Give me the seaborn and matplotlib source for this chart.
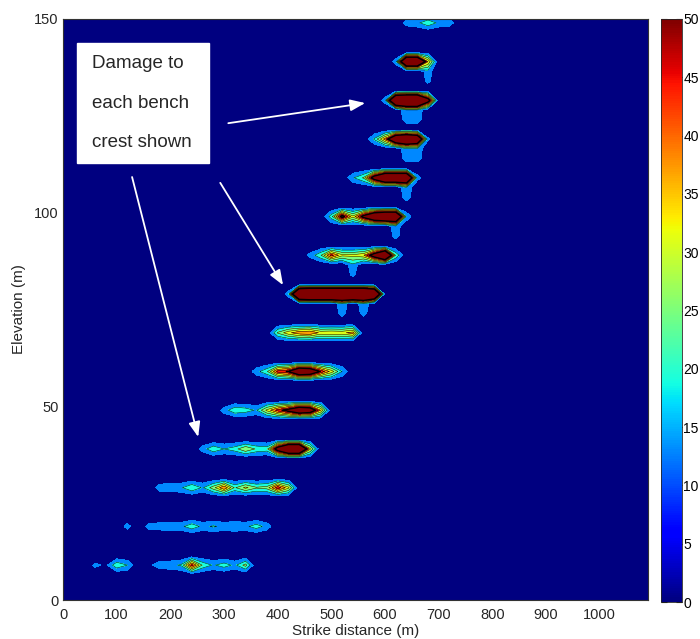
import numpy as np
import matplotlib
matplotlib.use("Agg")
import matplotlib.pyplot as plt
import seaborn as sns
from matplotlib.patches import Rectangle
from matplotlib.cm import ScalarMappable
from matplotlib.colors import Normalize

# ---------------- data ----------------
# bench crest elevations (m)
bench_elev = [9, 19, 29, 39, 49, 59, 69, 79, 89, 99, 109, 119, 129, 139, 149]
# strike distance (m) of the first sample of each bench profile; samples every 20 m
bench_start = [60, 120, 180, 260, 300, 360, 400, 420, 460, 500, 540, 580, 600, 620, 640]
step_x = 20
# damage values along each bench crest
bench_damage = [
    [9, 5, 20, 14, 0, 5, 11, 12, 15, 45, 20, 13, 18, 12, 24, 0],
    [10, 0, 10, 11, 12, 12, 19, 12, 15, 12, 14, 12, 18, 11, 0],
    [11, 12, 13, 21, 13, 25, 42, 20, 30, 22, 24, 47, 30, 0],
    [10, 20, 14, 18, 28, 20, 18, 60, 90, 90, 30, 0],
    [10, 20, 18, 13, 30, 45, 55, 70, 65, 35, 0],
    [11, 20, 45, 50, 75, 70, 48, 32, 14, 0],
    [22, 33, 40, 42, 33, 34, 33, 38, 0],
    [10, 110, 120, 120, 120, 120, 120, 120, 100, 0],
    [9, 20, 45, 30, 30, 34, 60, 90, 20, 0],
    [18, 55, 30, 55, 80, 90, 90, 12],
    [13, 22, 60, 90, 90, 90, 10],
    [15, 38, 80, 90, 80, 8],
    [10, 100, 110, 110, 60],
    [10, 90, 90, 35],
    [10, 12, 20, 12, 11],
]
# low-level damage hanging below some benches (upper part, lower part)
drip_bench = [79, 79, 89, 99, 109, 119, 119, 129, 129, 139]
drip_x = [520, 560, 540, 620, 640, 640, 660, 640, 660, 680]
drip_upper = [13, 13, 12, 12, 13, 13, 13, 13, 13, 11]
drip_lower = [10, 10, 9, 10, 11, 11, 11, 11, 11, 9]

contour_levels = [0, 7, 14, 21, 28, 35, 42, 49, 1000]
band_color_values = [0, 13, 19, 25, 31, 37, 44, 50]
xticks = list(range(0, 1001, 100))
yticks = [0, 50, 100, 150]
cbar_ticks = list(range(0, 51, 5))
note_lines = ["Damage to", "each bench", "crest shown"]

# ---------------- build the grid for contourf ----------------
x_grid = np.arange(0, 1101, step_x)
y_rows = [0.0]
for b in bench_elev:
    y_rows += [b - 5, b - 2.5, b, b + 2.5]
y_rows.append(155.0)
y_rows = np.array(y_rows, dtype=float)
row_of = {float(v): i for i, v in enumerate(y_rows)}
Z = np.zeros((len(y_rows), len(x_grid)))
for b, s, vals in zip(bench_elev, bench_start, bench_damage):
    c0 = s // step_x
    Z[row_of[float(b)], c0:c0 + len(vals)] = vals
for b, xx, vu, vl in zip(drip_bench, drip_x, drip_upper, drip_lower):
    c = xx // step_x
    Z[row_of[b - 2.5], c] = vu
    Z[row_of[float(b - 5)], c] = vl

# ---------------- style ----------------
sns.set_style("white")
plt.rcParams["font.family"] = ["Liberation Sans", "DejaVu Sans"]

jet = plt.get_cmap("jet")
norm = Normalize(0, 50)
band_colors = [jet(norm(v)) for v in band_color_values]

fig = plt.figure(figsize=(7.0, 6.39), dpi=100)
ax = fig.add_axes([63 / 700, (639 - 600) / 639, 585 / 700, 581 / 639])
ax.set_facecolor(jet(0.0))

ax.contourf(x_grid, y_rows, Z, levels=contour_levels, colors=band_colors)
ax.contour(x_grid, y_rows, Z, levels=contour_levels[2:-2], colors="k", linewidths=0.35)
ax.contour(x_grid, y_rows, Z, levels=[49], colors="k", linewidths=1.0)

ax.set_xlim(0, 1090)
ax.set_ylim(0, 150)
ax.set_xticks(xticks)
ax.set_yticks(yticks)
ax.tick_params(axis="x", labelsize=10.5, length=0, pad=6)
ax.tick_params(axis="y", labelsize=10.5, length=0, pad=3)
ax.set_xlabel("Strike distance (m)", fontsize=11, labelpad=1)
ax.set_ylabel("Elevation (m)", fontsize=11, labelpad=6)
for sp in ax.spines.values():
    sp.set_color("#333333")
    sp.set_linewidth(0.8)

# annotation box and arrows
ax.add_patch(Rectangle((0.024, 0.752), 0.2256, 0.2067, transform=ax.transAxes,
                       facecolor="white", edgecolor="white", zorder=5))
for yy, line in zip([0.924, 0.855, 0.788], note_lines):
    ax.text(0.0496, yy, line, transform=ax.transAxes, fontsize=13.5,
            va="center", ha="left", zorder=6)

arrows = [((308, 123.1), (563, 128.3)),
          ((293, 107.7), (410, 81.3)),
          ((128.7, 109.2), (251.9, 42.1))]
for (x0, y0), (x1, y1) in arrows:
    ax.annotate("", xy=(x1, y1), xytext=(x0, y0),
                arrowprops=dict(arrowstyle="-|>,head_length=0.9,head_width=0.35",
                                color="white", lw=1.3, shrinkA=0, shrinkB=0),
                zorder=6)

# colorbar
cax = fig.add_axes([661 / 700, (639 - 602) / 639, 21 / 700, 583 / 639])
cb = fig.colorbar(ScalarMappable(norm=norm, cmap=jet), cax=cax, ticks=cbar_ticks)
cb.outline.set_linewidth(0.6)
cax.tick_params(direction="in", left=True, right=True, length=4, width=0.8,
                labelsize=10, pad=1, colors="k")

fig.savefig("out.png", dpi=100)
